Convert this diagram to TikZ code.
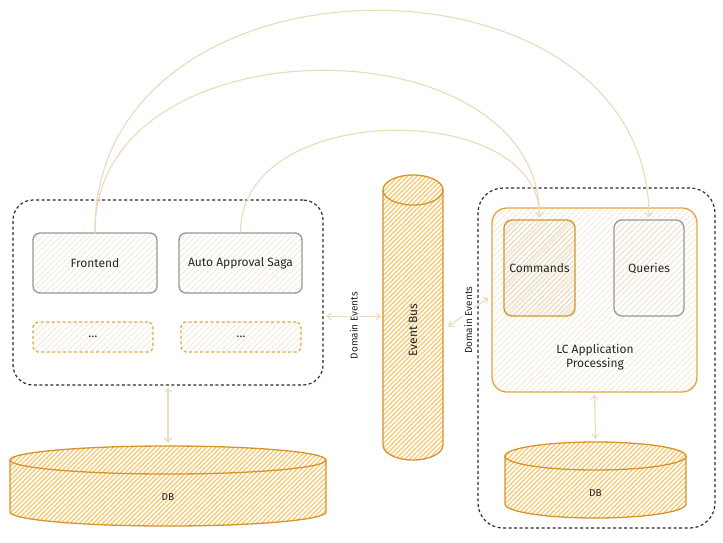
\documentclass[tikz,border=0pt]{standalone}
\usepackage{fontspec}
\setmainfont{Fira Sans}
\usetikzlibrary{patterns.meta,arrows.meta,calc}
\definecolor{orng}{RGB}{214,148,42}
\definecolor{orngd}{RGB}{228,165,60}
\definecolor{hatchY}{RGB}{246,198,105}
\definecolor{hatchP}{RGB}{241,230,210}
\definecolor{hatchC}{RGB}{236,222,196}
\definecolor{connc}{RGB}{236,218,185}
\definecolor{greyb}{RGB}{152,152,152}
\definecolor{darkd}{RGB}{45,45,45}
\tikzset{
  hatchpale/.style={pattern={Lines[angle=45,distance=4pt,line width=0.9pt]},pattern color=hatchP},
  hatchcmd/.style={pattern={Lines[angle=45,distance=3.5pt,line width=1.1pt]},pattern color=hatchC},
  hatchyel/.style={pattern={Lines[angle=45,distance=3.3pt,line width=1.2pt]},pattern color=hatchY},
  container/.style={draw=darkd, line width=1.2pt, rounded corners=20pt, dash pattern=on 3pt off 2.5pt},
  greybox/.style={draw=greyb, line width=1.3pt, rounded corners=7pt, hatchpale},
  dotbox/.style={draw=orngd, line width=1.2pt, rounded corners=5pt, dash pattern=on 3pt off 2.5pt, hatchpale},
  lcbox/.style={draw=orngd, line width=1.3pt, rounded corners=15pt, hatchpale},
  cmdbox/.style={draw=orng, line width=1.3pt, rounded corners=8pt, hatchcmd},
  cylbox/.style={draw=none, inner sep=0pt},
  txt/.style={font=\fontsize{12}{14}\selectfont, text=black!85},
  small/.style={font=\fontsize{10}{12}\selectfont, text=black!85},
  elabel/.style={small, rotate=90, fill=white, inner sep=1.5pt},
  conn/.style={draw=connc, line width=1.1pt},
  bothtips/.style={{Straight Barb[length=4pt,width=7pt]}-{Straight Barb[length=4pt,width=7pt]}},
  endtip/.style={-{Straight Barb[length=4pt,width=7pt]}},
  cylline/.style={draw=orng, line width=1.3pt},
}
\newcommand{\mycyl}[5]{%
  \fill[hatchyel] (#1-#4,#2) -- (#1-#4,#3) arc[start angle=180,end angle=0,x radius=#4,y radius=#5] -- (#1+#4,#2) arc[start angle=0,end angle=-180,x radius=#4,y radius=#5] -- cycle;
  \draw[cylline] (#1-#4,#2) -- (#1-#4,#3) arc[start angle=180,end angle=0,x radius=#4,y radius=#5] -- (#1+#4,#2);
  \draw[cylline] (#1,#2) ellipse[x radius=#4,y radius=#5];
}
\begin{document}
\begin{tikzpicture}[x=1pt,y=-1pt]
\useasboundingbox (0,0) rectangle (723,542);
\fill[white] (0,0) rectangle (723,542);

% left container
\node[container, minimum width=310pt, minimum height=185pt] (leftc) at (168,292.5) {};
\node[greybox, minimum width=124pt, minimum height=60pt, txt] (frontend) at (95,263) {Frontend};
\node[greybox, minimum width=123pt, minimum height=60pt, txt] (saga) at (240.5,263) {Auto Approval Saga};
\node[dotbox, minimum width=120pt, minimum height=30pt, txt] (dots1) at (93,337) {\dots};
\node[dotbox, minimum width=120pt, minimum height=30pt, txt] (dots2) at (241,337) {\dots};

% left DB
\mycyl{168}{460}{512}{158}{14}
\node[cylbox, minimum width=316pt, minimum height=80pt] (leftdb) at (168,486) {};
\node[small] (leftdbt) at (168,497) {DB};

% event bus
\mycyl{413}{190}{445}{30}{15}
\node[cylbox, minimum width=60pt, minimum height=283pt] (bus) at (413,316.5) {};
\node[txt, rotate=90] (bust) at (413,330) {Event Bus};

% right container
\node[container, rounded corners=25pt, minimum width=237pt, minimum height=340pt] (rightc) at (596.5,358) {};
\node[lcbox, minimum width=205pt, minimum height=184pt] (lc) at (594.5,300) {};
\node[txt, align=center] (lct) at (595,357) {LC Application\\Processing};
\node[cmdbox, minimum width=71pt, minimum height=96pt, txt] (commands) at (539.5,268) {Commands};
\node[greybox, rounded corners=8pt, minimum width=70pt, minimum height=96pt, txt] (queries) at (649,268) {Queries};

% right DB
\mycyl{595.5}{456}{504}{90.5}{14}
\node[cylbox, minimum width=181pt, minimum height=76pt] (rightdb) at (595.5,480) {};
\node[small] (rightdbt) at (595.5,493) {DB};

% connectors
\draw[conn, bothtips] ($(leftc.south)+(0,2)$) -- ($(leftdb.north)+(0,-3)$);
\draw[conn, bothtips] ($(lc.south)+(0,2)$) -- ($(rightdb.north)+(0,-3)$);
\draw[conn, bothtips] ($(bus.west -| leftc.east)+(3,0)$) -- ($(bus.west)+(-2,0)$)
  node[elabel, midway, xshift=-9pt] (de1) {Domain Events};
\draw[conn, bothtips] ($(bus.east)+(5,10)$) -- ($(lc.west)+(-3,-2)$)
  node[elabel, midway, xshift=-8pt] (de2) {Domain Events};

\draw[conn, endtip] (frontend.north) .. controls (93,-61) and (648,-61) .. ($(queries.north)+(0,-2)$);
\draw[conn, endtip] (frontend.north) .. controls (93,19) and (540,19) .. ($(commands.north)+(0,-2)$);
\draw[conn, endtip] (saga.north) .. controls (240,99) and (540,99) .. ($(commands.north)+(0,-2)$);
\end{tikzpicture}
\end{document}
